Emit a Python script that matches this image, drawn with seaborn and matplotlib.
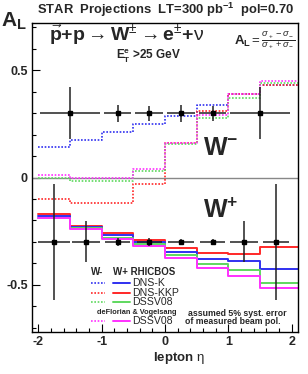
import matplotlib
matplotlib.use("Agg")
import matplotlib.pyplot as plt
import seaborn as sns

# bin edges in lepton eta (last bin runs past the frame)
edges = [-2.0, -1.5, -1.0, -0.5, 0.0, 0.5, 1.0, 1.5, 2.5]

# W- theory curves (dotted)
wm_dnsk = [0.14, 0.177, 0.21, 0.25, 0.285, 0.34, 0.39, 0.43]
wm_dnskkp = [-0.10, -0.12, -0.12, -0.03, 0.16, 0.31, 0.39, 0.43]
wm_dssv = [0.0, -0.015, -0.015, 0.03, 0.155, 0.275, 0.37, 0.44]
wm_dfv = [0.01, 0.0, 0.0, 0.04, 0.16, 0.29, 0.39, 0.45]

# W+ theory curves (solid)
wp_dnsk = [-0.18, -0.23, -0.27, -0.30, -0.345, -0.38, -0.39, -0.425]
wp_dnskkp = [-0.17, -0.225, -0.26, -0.29, -0.33, -0.35, -0.355, -0.325]
wp_dssv = [-0.19, -0.235, -0.28, -0.31, -0.36, -0.405, -0.43, -0.49]
wp_dfv = [-0.19, -0.24, -0.285, -0.32, -0.375, -0.42, -0.46, -0.515]

# projected data points
wm_eta = [-1.5, -0.75, -0.25, 0.25, 0.75, 1.5]
wm_al = [0.3, 0.3, 0.3, 0.3, 0.3, 0.3]
wm_yerr = [0.12, 0.04, 0.035, 0.04, 0.035, 0.12]
wm_xerr = [0.47, 0.22, 0.22, 0.22, 0.22, 0.47]

wp_eta = [-1.75, -1.25, -0.75, -0.25, 0.25, 0.75, 1.25, 1.75]
wp_al = [-0.3, -0.3, -0.3, -0.3, -0.3, -0.3, -0.3, -0.3]
wp_yerr = [0.27, 0.095, 0.02, 0.02, 0.015, 0.015, 0.095, 0.27]
wp_xerr = [0.25, 0.22, 0.2, 0.2, 0.2, 0.2, 0.22, 0.2]

xticks = [-2, -1, 0, 1, 2]
xticklabels = ["-2", "-1", "0", "1", "2"]
yticks = [-0.5, 0, 0.5]
yticklabels = ["-0.5", "0", "0.5"]

c_blue = "#3030f0"
c_red = "#ff2828"
c_green = "#5ed85e"
c_mag = "#ff30ff"

sns.set_style("ticks")
plt.rcParams["font.family"] = ["Liberation Sans", "DejaVu Sans"]
plt.rcParams["mathtext.fontset"] = "custom"
plt.rcParams["mathtext.rm"] = "Liberation Sans"
plt.rcParams["mathtext.bf"] = "Liberation Sans:bold"
plt.rcParams["mathtext.it"] = "Liberation Sans:italic"
plt.rcParams["mathtext.sf"] = "Liberation Sans"

W, H = 308, 374
fig = plt.figure(figsize=(W / 100, H / 100), dpi=100)
ax = fig.add_axes([32 / W, 1 - 332 / H, 266 / W, 309 / H])


def px(x, y):
    return x / W, 1 - y / H


dot = (0, (1, 1))
ax.axhline(0, color="#888888", lw=1.0, zorder=1)

for vals, col in [(wm_dnsk, c_blue), (wm_dnskkp, c_red), (wm_dssv, c_green), (wm_dfv, c_mag)]:
    sns.lineplot(x=edges, y=vals + [vals[-1]], drawstyle="steps-post", color=col,
                 lw=1.2, linestyle=dot, ax=ax, errorbar=None)

for vals, col in [(wp_dnskkp, c_red), (wp_dnsk, c_blue), (wp_dssv, c_green), (wp_dfv, c_mag)]:
    sns.lineplot(x=edges, y=vals + [vals[-1]], drawstyle="steps-post", color=col,
                 lw=1.4, ax=ax, errorbar=None)

for eta, al, xe, ye in [(wm_eta, wm_al, wm_xerr, wm_yerr), (wp_eta, wp_al, wp_xerr, wp_yerr)]:
    ax.errorbar(eta, al, xerr=xe, yerr=ye, fmt="s", ms=3.0, color="black",
                ecolor="#222222", elinewidth=1.1, capsize=0, zorder=5)

ax.set_xlim(-2.1, 2.1)
ax.set_ylim(-0.72, 0.72)
ax.set_xticks(xticks)
ax.set_xticklabels(xticklabels, fontweight="bold", fontsize=9)
ax.set_yticks(yticks)
ax.set_yticklabels(yticklabels, fontweight="bold", fontsize=9)
ax.set_xticks([-2 + 0.2 * i for i in range(21)], minor=True)
ax.set_yticks([-0.7 + 0.1 * i for i in range(15)], minor=True)
ax.tick_params(which="both", direction="in", color="black", width=0.8)
ax.tick_params(which="major", length=6, pad=3)
ax.tick_params(which="minor", length=3)
ax.set_xlabel("")
ax.set_ylabel("")
for s in ax.spines.values():
    s.set_linewidth(1.0)
    s.set_color("black")
    s.set_visible(True)

# titles and annotations
fig.text(*px(14, 21), r"$\mathbf{A_L}$", fontsize=15, ha="center", va="center")
fig.text(*px(166, 10), r"STAR  Projections  LT=300 pb$^{\mathbf{-1}}$  pol=0.70",
         fontsize=9.4, fontweight="bold", ha="center", va="center")
fig.text(*px(127, 35),
         r"$\vec{\mathbf{p}}\mathbf{+p}\rightarrow\mathbf{W}^{\pm}\rightarrow\mathbf{e}^{\pm}\mathbf{+}\mathrm{\nu}$",
         fontsize=14, ha="center", va="center")
fig.text(*px(149, 56), r"$\mathbf{E_T^e}$ >25 GeV", fontsize=8.5, fontweight="bold",
         ha="center", va="center")
fig.text(*px(265, 41), r"$\mathbf{A_L}=\frac{\sigma_+ - \sigma_-}{\sigma_+ + \sigma_-}$",
         fontsize=9.5, ha="center", va="center")
fig.text(*px(221, 148), r"W$^{\mathbf{-}}$", fontsize=18, fontweight="bold", ha="center", va="center")
fig.text(*px(221, 211), r"W$^{\mathbf{+}}$", fontsize=18, fontweight="bold", ha="center", va="center")

# legend drawn by hand
fig.text(*px(97, 272), "W-", fontsize=7, fontweight="bold", ha="center", va="center")
fig.text(*px(144, 272), "W+ RHICBOS", fontsize=7, fontweight="bold", ha="center", va="center")
rows = [(283, c_blue, "DNS-K"), (293, c_red, "DNS-KKP"), (302, c_green, "DSSV08"), (321, c_mag, "DSSV08")]
for y, col, lab in rows:
    x0, y0 = px(91, y)
    x1, _ = px(105, y)
    fig.add_artist(plt.Line2D([x0, x1], [y0, y0], color=col, lw=1.2, linestyle=dot))
    x0, _ = px(113, y)
    x1, _ = px(130, y)
    fig.add_artist(plt.Line2D([x0, x1], [y0, y0], color=col, lw=1.4))
    fig.text(*px(132, y), lab, fontsize=7.6, ha="left", va="center")
fig.text(*px(137, 312), "deFlorian & Vogelsang", fontsize=5.3, fontweight="bold", ha="center", va="center")
fig.text(*px(237, 313), "assumed 5% syst. error", fontsize=6.3, fontweight="bold", ha="center", va="center")
fig.text(*px(233, 322), "of measured beam pol.", fontsize=6.3, fontweight="bold", ha="center", va="center")

fig.text(*px(179, 358), r"lepton $\mathrm{\eta}$", fontsize=9.5, fontweight="bold", ha="center", va="center")

fig.savefig("out.png", dpi=100)
